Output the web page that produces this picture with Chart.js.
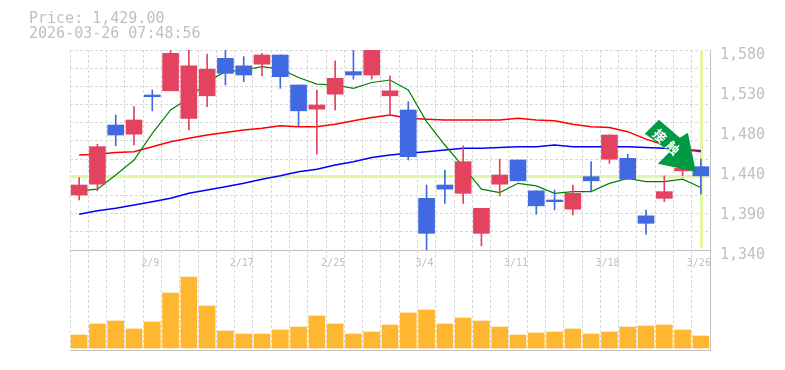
<!DOCTYPE html>
<html>
<head>
<meta charset="utf-8">
<style>
  body { margin: 0; background: #fff; }
  #wrap { position: relative; width: 785px; height: 370px; }
  #head { position: absolute; left: 29px; top: 11px; font: 15px/15px "DejaVu Sans Mono", monospace; color: #c0c0c0; white-space: pre; }
  canvas { position: absolute; left: 0; top: 0; }
</style>
</head>
<body>
<div id="wrap">
  <canvas id="chart" width="785" height="370"></canvas>
  <div id="head">Price: 1,429.00
2026-03-26 07:48:56</div>
</div>
<script src="https://cdn.jsdelivr.net/npm/chart.js@4"></script>
<script>
const dates = ["2/3","2/4","2/5","2/6","2/9","2/10","2/12","2/13","2/16","2/17","2/18","2/19","2/20","2/24","2/25","2/26","2/27","3/2","3/3","3/4","3/5","3/6","3/9","3/10","3/11","3/12","3/13","3/16","3/17","3/18","3/19","3/23","3/24","3/25","3/26"];
const dateTicks = ["2/9","2/17","2/25","3/4","3/11","3/18","3/26"];

const opens  = [1406,1419,1490,1479,1526,1531,1498,1525,1570,1561,1563,1574,1538,1509,1527,1554,1550,1525,1508,1402,1418,1408,1360,1419,1448,1411,1400,1389,1428,1449,1450,1381,1402,1435,1440];
const closes = [1418,1464,1478,1496,1524,1576,1561,1557,1552,1550,1574,1548,1507,1514,1546,1550,1590,1531,1452,1360,1413,1446,1390,1430,1423,1393,1398,1408,1423,1478,1425,1372,1410,1438,1429];
const highs  = [1427,1467,1502,1512,1532,1590,1590,1575,1590,1572,1576,1574,1538,1532,1567,1590,1590,1549,1518,1418,1436,1465,1390,1449,1448,1411,1412,1418,1446,1478,1455,1388,1429,1438,1449];
const lows   = [1400,1411,1465,1466,1507,1531,1484,1512,1538,1542,1549,1534,1489,1455,1508,1545,1545,1501,1448,1340,1396,1396,1345,1405,1423,1383,1388,1382,1411,1444,1425,1359,1398,1429,1407];

const maShort = [1411,1413,1430,1448,1480,1508,1522,1542,1554,1556,1560,1557,1547,1539,1538,1534,1541,1544,1532,1494,1466,1440,1413,1409,1420,1417,1408,1410,1410,1420,1426,1422,1422,1425,1415];
const maMid   = [1454,1455,1457,1458,1464,1470,1474,1478,1481,1484,1486,1489,1488,1488,1491,1495,1499,1502,1498,1497,1496,1496,1496,1496,1498,1496,1495,1491,1488,1487,1482,1473,1466,1461,1458];
const maLong  = [1383,1387,1390,1394,1398,1402,1408,1412,1416,1420,1425,1429,1434,1437,1442,1446,1451,1454,1456,1458,1460,1462,1462,1463,1464,1464,1466,1464,1464,1464,1464,1463,1462,1461,1459];

const volumes = [13,24,27,19,26,55,71,42,17,14,14,18,21,32,24,14,16,23,35,38,24,30,27,21,13,15,16,19,14,16,21,22,23,18,12];

const priceTicks  = [1580,1532,1484,1436,1388,1340];
const priceLabels = ["1,580","1,530","1,480","1,440","1,390","1,340"];
const gridSteps = [5.5,6.5,7.5,8.5,9.5,10.5,11.5,12.5,13.5,14.5,15.5,16.5];
const lastPrice = 1429;
const signalText = ["接","触"];

const UP = "#e3435f", DOWN = "#4169e1", GREY = "#c0c0c0", GRID = "#d8d8d8", GUIDE = "#e2f5a2";
const MONO = "'DejaVu Sans Mono', monospace";

const isUp = closes.map((c, i) => c >= opens[i]);
const candleColors = isUp.map((u) => (u ? UP : DOWN));

// last price guides go under the candles, arrow goes over everything
const guides = {
  id: "guides",
  beforeDatasetsDraw(chart) {
    const { ctx, chartArea, scales } = chart;
    const y = scales.y.getPixelForValue(lastPrice);
    const x = scales.x.getPixelForValue(dates.length - 1);
    ctx.save();
    ctx.fillStyle = GUIDE;
    ctx.fillRect(chartArea.left, Math.round(y) - 1, chartArea.width, 3);
    ctx.fillRect(Math.round(x) - 1, chartArea.top, 3, scales.y.getPixelForValue(1342) - chartArea.top);
    ctx.restore();
  },
  afterDatasetsDraw(chart) {
    const { ctx, scales } = chart;
    const tx = scales.x.getPixelForValue(dates.length - 1) - 5;
    const ty = scales.y.getPixelForValue(lastPrice) - 4;
    const shape = [[0,0],[-38,-8],[-26,-20],[-51,-38],[-37,-52],[-16,-34],[-8,-39]];
    ctx.save();
    ctx.translate(tx, ty);
    ctx.fillStyle = "#009944";
    ctx.beginPath();
    shape.forEach((p) => ctx.lineTo(p[0], p[1]));
    ctx.closePath();
    ctx.fill();
    ctx.fillStyle = "#fff";
    ctx.font = "bold 13px 'Noto Sans CJK JP'";
    ctx.textAlign = "center";
    ctx.textBaseline = "middle";
    [[-36,-36],[-23,-24]].forEach((p, i) => {
      ctx.save();
      ctx.translate(p[0], p[1]);
      ctx.rotate(Math.PI / 4);
      ctx.fillText(signalText[i], 0, 0);
      ctx.restore();
    });
    ctx.restore();
  },
};

new Chart(document.getElementById("chart"), {
  data: {
    labels: dates,
    datasets: [
      { type: "bar", label: "Body", data: opens.map((o, i) => [o, closes[i]]), backgroundColor: candleColors, barThickness: 16, grouped: false, yAxisID: "y", order: 1 },
      { type: "bar", label: "Wick", data: lows.map((l, i) => [l, highs[i]]), backgroundColor: candleColors, barThickness: 1, grouped: false, yAxisID: "y", order: 2 },
      { type: "line", label: "MA short", data: maShort, borderColor: "#008000", borderWidth: 1.2, pointRadius: 0, tension: 0, yAxisID: "y", order: 3 },
      { type: "line", label: "MA mid", data: maMid, borderColor: "#ff0000", borderWidth: 1.5, pointRadius: 0, tension: 0, yAxisID: "y", order: 4 },
      { type: "line", label: "MA long", data: maLong, borderColor: "#0000ff", borderWidth: 1.5, pointRadius: 0, tension: 0, yAxisID: "y", order: 5 },
      { type: "bar", label: "Volume", data: volumes, backgroundColor: "#ffb732", barThickness: 16, grouped: false, yAxisID: "yVol", order: 6 },
    ],
  },
  plugins: [guides],
  options: {
    responsive: false,
    animation: false,
    layout: { padding: { left: 70, top: 50, bottom: 20, right: 0 } },
    plugins: { legend: { display: false }, tooltip: { enabled: false } },
    scales: {
      x: {
        type: "category",
        offset: true,
        position: { yVol: 98 },
        grid: { color: GRID, offset: true, drawTicks: false },
        border: { color: GREY, width: 1, dash: [3, 2] },
        ticks: {
          autoSkip: false,
          maxRotation: 0,
          padding: 7,
          labelOffset: -2,
          color: GREY,
          font: { family: MONO, size: 10 },
          callback(value) {
            const label = this.getLabelForValue(value);
            return dateTicks.includes(label) ? label : "";
          },
        },
      },
      xBase: {
        type: "category",
        position: "bottom",
        offset: true,
        grid: { display: false },
        ticks: { display: false },
        border: { color: GREY, width: 1 },
        afterFit(scale) { scale.height = 0; },
      },
      y: {
        position: "right",
        min: 1220,
        max: 1580,
        afterBuildTicks(scale) { scale.ticks = priceTicks.map((v) => ({ value: v })); },
        afterFit(scale) { scale.width = 75; },
        grid: { display: false, drawTicks: false },
        border: { color: GREY, width: 1 },
        ticks: {
          padding: 10,
          labelOffset: 5,
          color: GREY,
          font: { family: MONO, size: 15 },
          callback(value) { return priceLabels[priceTicks.indexOf(value)]; },
        },
      },
      yVol: { display: false, min: -2, max: 298 },
      yGrid: {
        position: "left",
        min: 0,
        max: 16.5,
        afterBuildTicks(scale) { scale.ticks = gridSteps.map((v) => ({ value: v })); },
        afterFit(scale) { scale.width = 0; },
        grid: { color: GRID, drawTicks: false },
        border: { display: false, dash: [3, 2] },
        ticks: { display: false },
      },
    },
  },
});
</script>
</body>
</html>
